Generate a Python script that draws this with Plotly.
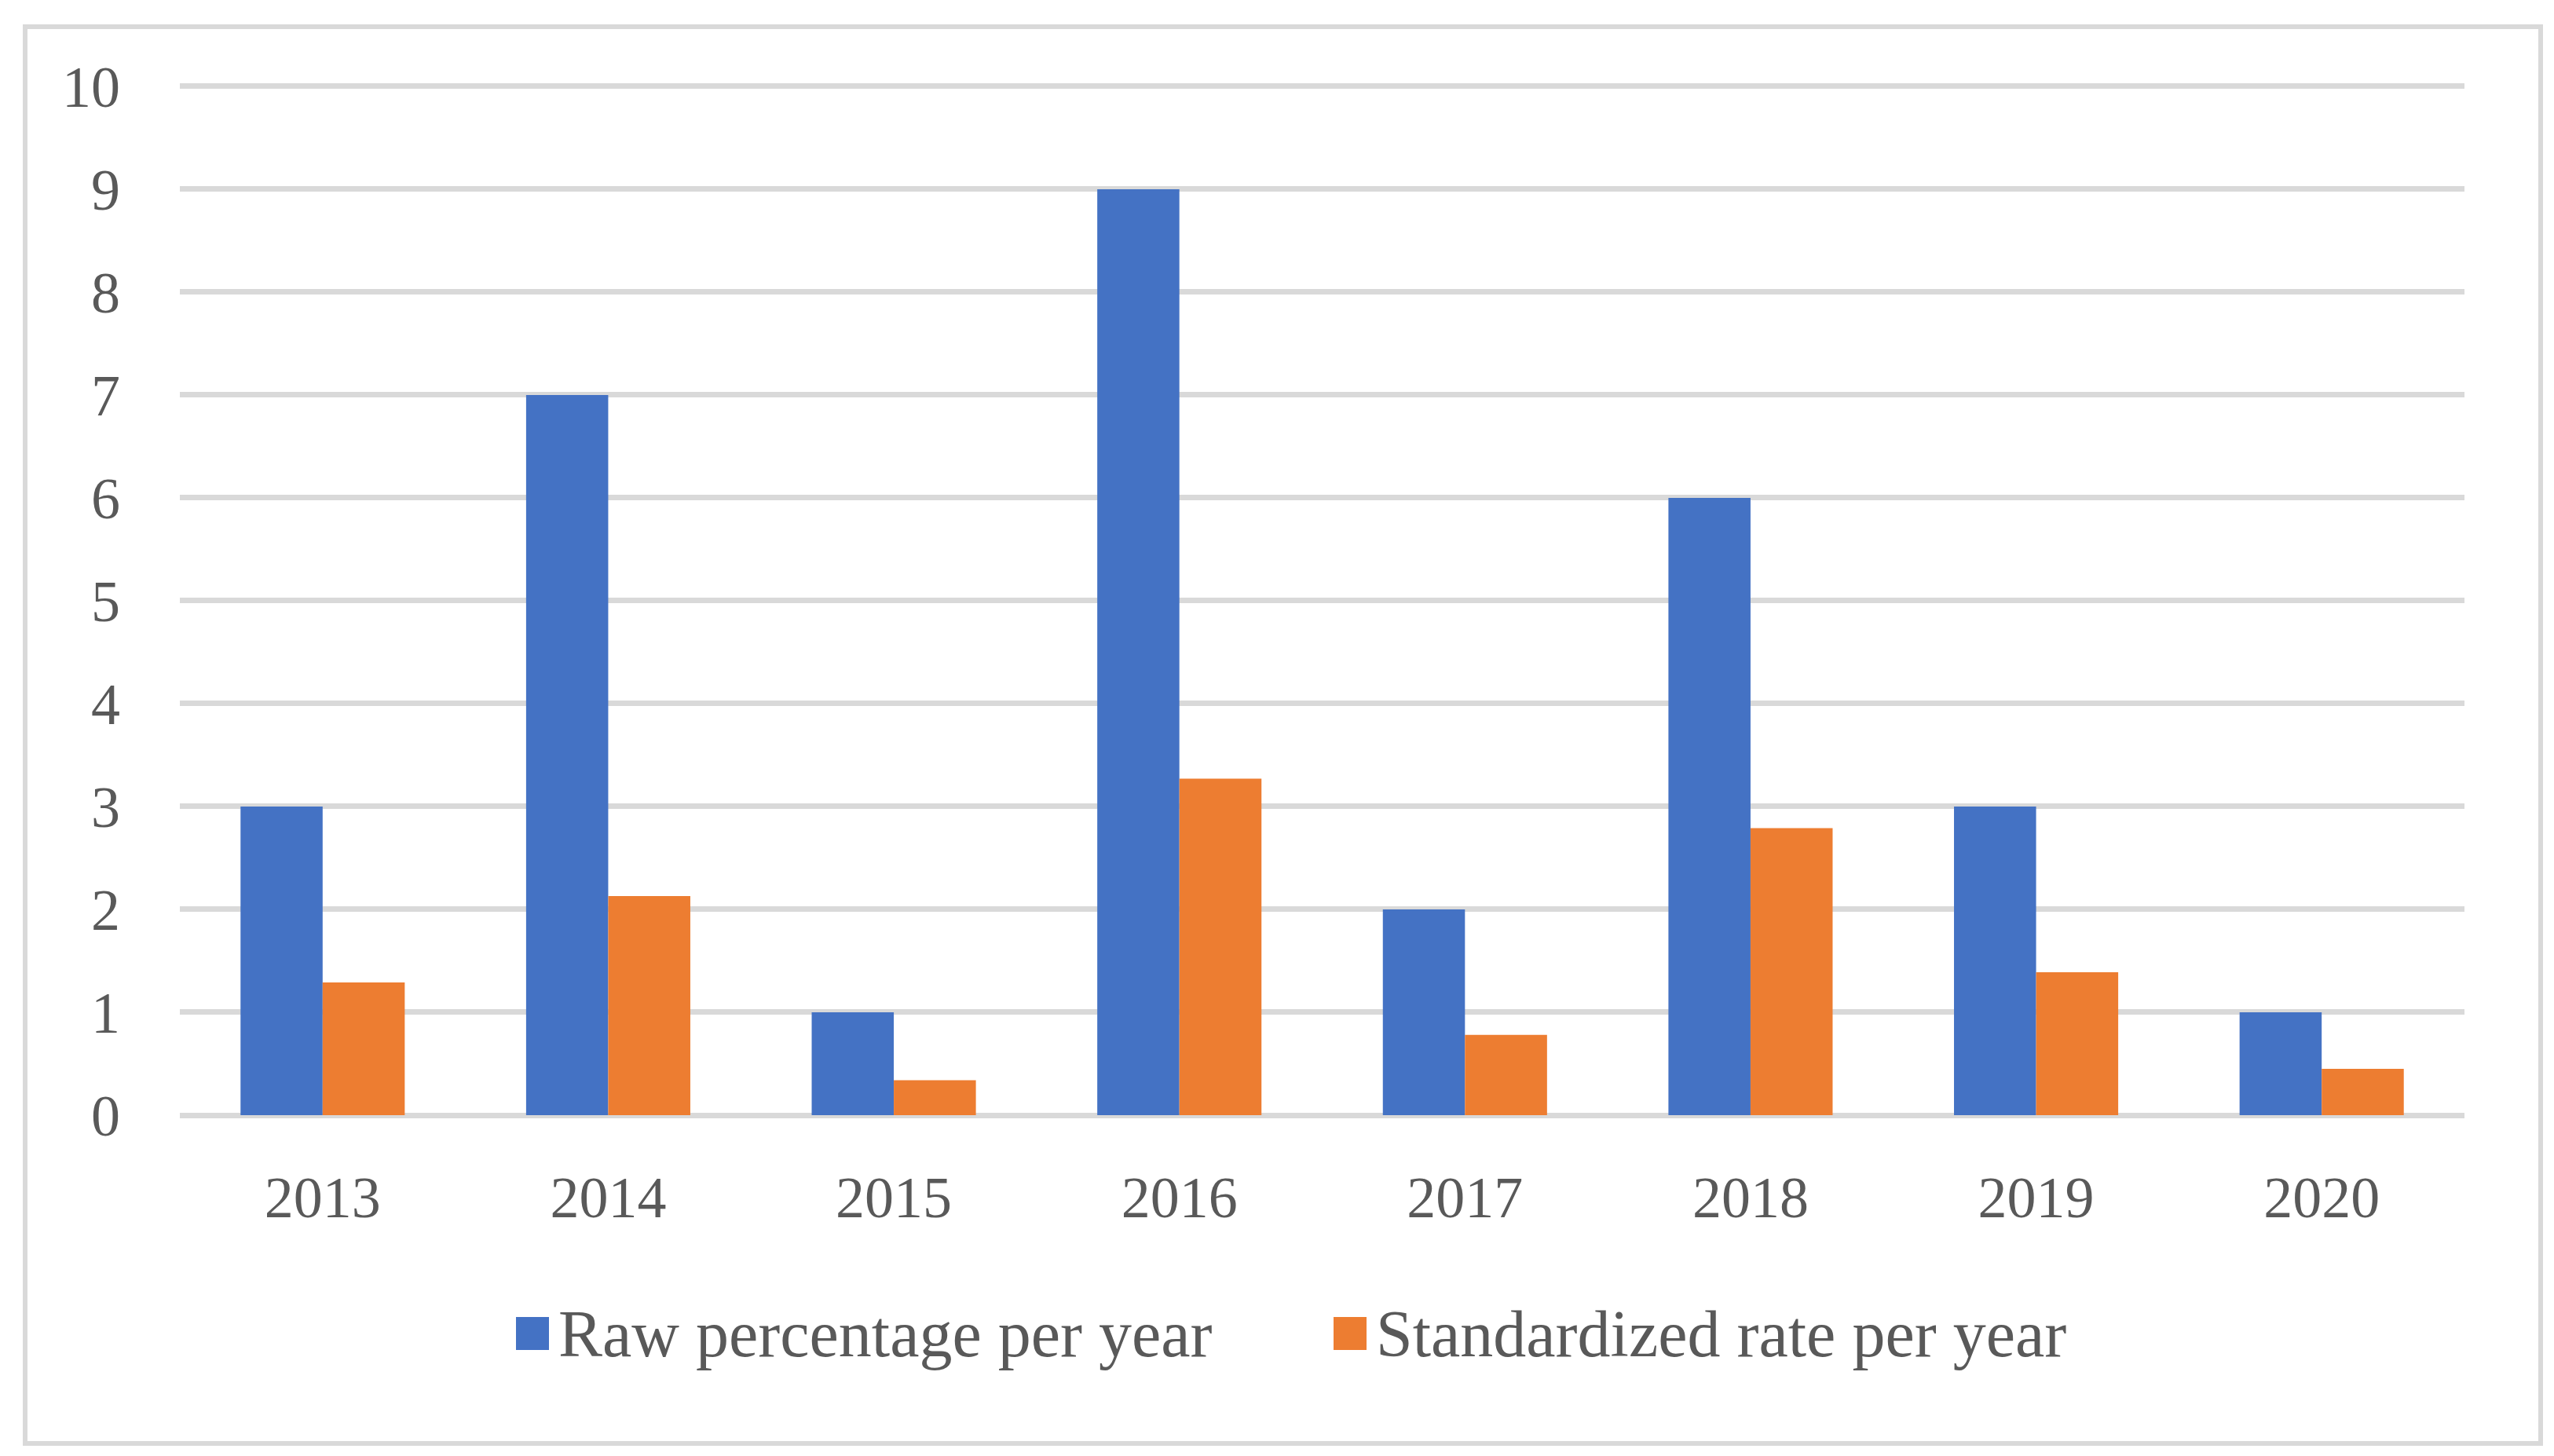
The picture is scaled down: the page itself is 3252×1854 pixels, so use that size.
import plotly.graph_objects as go

years = ["2013", "2014", "2015", "2016", "2017", "2018", "2019", "2020"]
raw_pct = [3, 7, 1, 9, 2, 6, 3, 1]
std_rate = [1.29, 2.13, 0.34, 3.27, 0.78, 2.79, 1.39, 0.45]
series_names = ["Raw percentage per year", "Standardized rate per year"]
y_ticks = [0, 1, 2, 3, 4, 5, 6, 7, 8, 9, 10]

BLUE = "#4472C4"
ORANGE = "#ED7D31"
TXT = "#595959"
GRID = "#D9D9D9"
FONT = "Liberation Serif"

W, H = 3252, 1854
Y_TOP = 10.03
L, R, T, B = 221, 122, 98, 442
PW, PH = W - L - R, H - T - B


def px(x):
    return (x - L) / PW


def py(y):
    return (H - B - y) / PH


fig = go.Figure()
fig.add_trace(go.Bar(x=years, y=raw_pct, name=series_names[0],
                     marker=dict(color=BLUE, line=dict(width=0)), showlegend=False))
fig.add_trace(go.Bar(x=years, y=std_rate, name=series_names[1],
                     marker=dict(color=ORANGE, line=dict(width=0)), showlegend=False))

shapes = [
    dict(type="rect", xref="paper", yref="paper",
         x0=px(24), x1=px(3227), y0=py(26), y1=py(1830),
         line=dict(color=GRID, width=6), fillcolor="rgba(0,0,0,0)", layer="below"),
]
annotations = []
legend_items = [(649, BLUE, series_names[0]), (1690, ORANGE, series_names[1])]
for x0, col, name in legend_items:
    shapes.append(dict(type="rect", xref="paper", yref="paper",
                       x0=px(x0), x1=px(x0 + 42), y0=py(1669), y1=py(1711),
                       line=dict(width=0), fillcolor=col))
    annotations.append(dict(text=name, xref="paper", yref="paper",
                            x=px(x0 + 52), y=py(1690), xanchor="left", yanchor="middle",
                            showarrow=False, font=dict(family=FONT, size=84, color=TXT)))

fig.update_layout(
    width=W, height=H,
    margin=dict(l=L, r=R, t=T, b=B, pad=0),
    paper_bgcolor="white", plot_bgcolor="white",
    barmode="group", bargap=0.425, bargroupgap=0,
    font=dict(family=FONT, size=74, color=TXT),
    showlegend=False,
    shapes=shapes, annotations=annotations,
)
fig.update_xaxes(showgrid=False, showline=False, ticks="", ticklabelstandoff=55,
                 tickfont=dict(family=FONT, size=74, color=TXT))
fig.update_yaxes(range=[0, Y_TOP], tickvals=y_ticks, showgrid=True, gridcolor=GRID, gridwidth=7,
                 zeroline=True, zerolinecolor=GRID, zerolinewidth=7, showline=False,
                 ticks="", ticklabelstandoff=75,
                 tickfont=dict(family=FONT, size=74, color=TXT))

fig.write_html("out.html")
